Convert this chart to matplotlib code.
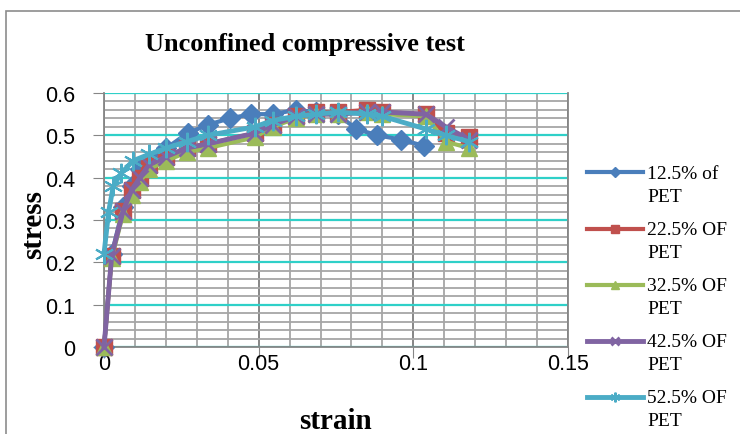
import matplotlib
matplotlib.use('Agg')
import matplotlib.pyplot as plt
from matplotlib.legend_handler import HandlerLine2D
from matplotlib.patches import Rectangle

# strain / stress readings
strain_12 = [0, 0.0025, 0.0062, 0.0089, 0.0116, 0.0145, 0.0202, 0.027, 0.0336,
             0.0406, 0.0476, 0.0545, 0.062, 0.0686, 0.0755, 0.0815, 0.0884, 0.096, 0.1035]
stress_12 = [0, 0.22, 0.33, 0.38, 0.42, 0.44, 0.47, 0.505, 0.525,
             0.54, 0.55, 0.55, 0.56, 0.555, 0.55, 0.515, 0.50, 0.49, 0.475]

strain = [0, 0.0025, 0.0062, 0.0089, 0.0116, 0.0145, 0.0202, 0.0267, 0.0336,
          0.0487, 0.0545, 0.062, 0.0686, 0.0755, 0.085, 0.09, 0.104, 0.1105, 0.118]
stress_22 = [0, 0.216, 0.322, 0.37, 0.40, 0.43, 0.45, 0.47, 0.48,
             0.505, 0.525, 0.545, 0.555, 0.555, 0.56, 0.555, 0.55, 0.505, 0.495]
stress_32 = [0, 0.21, 0.315, 0.36, 0.39, 0.42, 0.44, 0.46, 0.47,
             0.495, 0.52, 0.54, 0.55, 0.55, 0.555, 0.55, 0.545, 0.485, 0.47]
stress_42 = [0, 0.216, 0.322, 0.37, 0.40, 0.43, 0.45, 0.47, 0.48,
             0.505, 0.525, 0.545, 0.55, 0.55, 0.555, 0.555, 0.55, 0.52, 0.49]

strain_52 = [0, 0.0015, 0.003, 0.0055, 0.0094, 0.0145, 0.0202, 0.0267, 0.0336,
             0.0487, 0.0545, 0.062, 0.0686, 0.0755, 0.085, 0.09, 0.104, 0.1105, 0.118]
stress_52 = [0.22, 0.32, 0.38, 0.41, 0.44, 0.455, 0.47, 0.485, 0.50,
             0.52, 0.535, 0.545, 0.55, 0.555, 0.55, 0.545, 0.515, 0.50, 0.485]

labels = ['12.5% of\nPET', '22.5% OF\nPET', '32.5% OF\nPET', '42.5% OF\nPET', '52.5% OF\nPET']

serif = 'Liberation Serif'
sans = 'Liberation Sans'


# put the legend handle next to the first line of a two-line label
class TopHandler(HandlerLine2D):
    def create_artists(self, legend, orig_handle, xdescent, ydescent,
                       width, height, fontsize, trans):
        arts = super().create_artists(legend, orig_handle, xdescent, ydescent,
                                      width, height, fontsize, trans)
        for a in arts:
            a.set_ydata([y + 0.62 * fontsize for y in a.get_ydata()])
        return arts


fig = plt.figure(figsize=(7.4, 4.35), dpi=100)
ax = fig.add_axes([104 / 740, 1 - 348 / 435, 464 / 740, 254 / 435])

# outer chart border
fig.patches.append(Rectangle((6 / 740, -0.05), 1.1, 1 - 12 / 435 + 0.05,
                             transform=fig.transFigure, fill=False,
                             edgecolor='#8c8c8c', lw=1.2))

ax.plot(strain_12, stress_12, color='#4a7ebb', lw=3, marker='D', ms=10,
        label=labels[0], zorder=3, clip_on=False)
ax.plot(strain, stress_22, color='#c0504d', lw=3, marker='s', ms=12,
        label=labels[1], zorder=4, clip_on=False)
ax.plot(strain, stress_32, color='#9bbb59', lw=3, marker='^', ms=11,
        label=labels[2], zorder=5, clip_on=False)
ax.plot(strain, stress_42, color='#8064a2', lw=3.5, marker='x', ms=11, mew=2,
        label=labels[3], zorder=6, clip_on=False)
ax.plot(strain_52, stress_52, color='#4bacc6', lw=3.5, marker=(6, 2, 0), ms=14,
        mew=1.5, label=labels[4], zorder=7, clip_on=False)

ax.set_xlim(0, 0.15)
ax.set_ylim(0, 0.6)
ax.set_xticks([0, 0.05, 0.1, 0.15])
ax.set_xticklabels(['0', '0.05', '0.1', '0.15'])
ax.set_yticks([0, 0.1, 0.2, 0.3, 0.4, 0.5, 0.6])
ax.set_yticklabels(['0', '0.1', '0.2', '0.3', '0.4', '0.5', '0.6'])
ax.set_xticks([i * 0.01 for i in range(16)], minor=True)
ax.set_yticks([i * 0.02 for i in range(31)], minor=True)

ax.grid(which='minor', color='#a6a6a6', lw=1.3, zorder=0)
ax.grid(which='major', axis='x', color='#868686', lw=1.4)
ax.grid(which='major', axis='y', color='#2fd0c8', lw=1.6)
ax.set_axisbelow(True)
ax.tick_params(which='minor', length=0)
ax.tick_params(which='major', length=8, color='#868686', labelsize=15.5)
ax.tick_params(axis='y', pad=13)
ax.tick_params(axis='x', pad=-4)
for lab in ax.get_xticklabels() + ax.get_yticklabels():
    lab.set_fontfamily(sans)

ax.spines['top'].set_visible(False)
for s in ['left', 'right', 'bottom']:
    ax.spines[s].set_color('#868686')
    ax.spines[s].set_linewidth(1.3)

ax.set_xlabel('strain', fontfamily=serif, fontweight='bold', fontsize=21)
ax.xaxis.set_label_coords(0.5, -0.235)
ax.set_ylabel('stress', fontfamily=serif, fontweight='bold', fontsize=21)
ax.yaxis.set_label_coords(-0.123, 0.488)

fig.text(305 / 740, 1 - 44 / 435, 'Unconfined compressive test', fontfamily=serif,
         fontweight='bold', fontsize=19, ha='center', va='center')

leg = ax.legend(loc='upper left', bbox_to_anchor=(587 / 740, 1 - 166 / 435),
                bbox_transform=fig.transFigure, frameon=False, borderpad=0,
                borderaxespad=0, handlelength=2.9, handletextpad=0.2,
                labelspacing=0.84, markerscale=0.5,
                prop={'family': serif, 'size': 14},
                handler_map={matplotlib.lines.Line2D: TopHandler()})
for t in leg.get_texts():
    t.set_linespacing(1.44)

fig.savefig('out.png', dpi=100)
